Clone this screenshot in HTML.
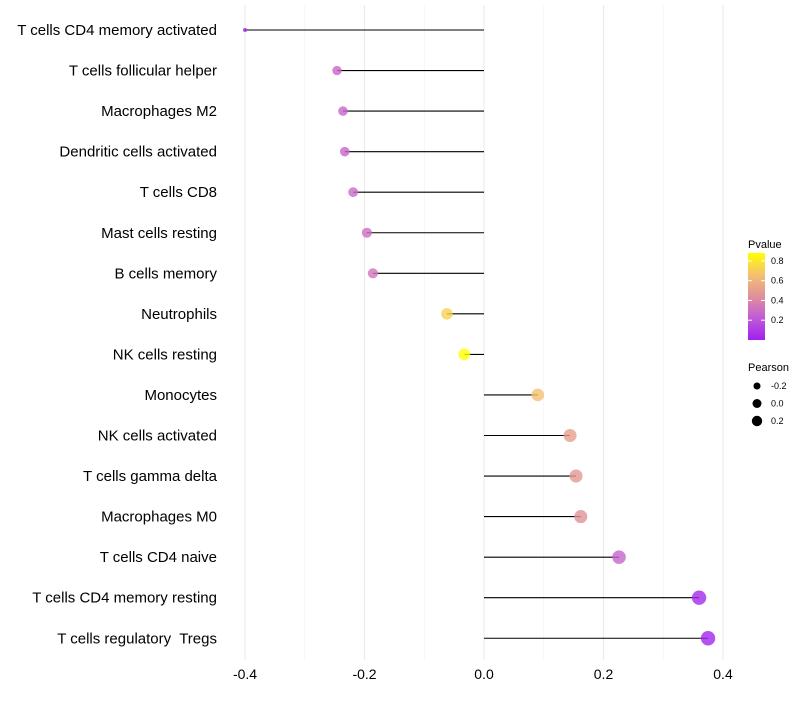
<!DOCTYPE html>
<html><head><meta charset="utf-8"><style>
body{margin:0;background:#fff;font-family:"Liberation Sans",sans-serif;}
text{white-space:pre;}
</style></head><body>
<svg id="chart" width="800" height="700" xmlns="http://www.w3.org/2000/svg" font-family="Liberation Sans, sans-serif"></svg>
<script>
const categories=["T cells CD4 memory activated","T cells follicular helper","Macrophages M2","Dendritic cells activated","T cells CD8","Mast cells resting","B cells memory","Neutrophils","NK cells resting","Monocytes","NK cells activated","T cells gamma delta","Macrophages M0","T cells CD4 naive","T cells CD4 memory resting","T cells regulatory  Tregs"];
const pearson=[-0.40,-0.246,-0.236,-0.233,-0.219,-0.196,-0.186,-0.062,-0.033,0.090,0.144,0.154,0.162,0.226,0.360,0.375];
const pvalue=[0.0,0.27,0.27,0.27,0.28,0.30,0.33,0.72,0.88,0.66,0.50,0.47,0.45,0.26,0.03,0.02];
const xTicks=[-0.4,-0.2,0.0,0.2,0.4];
const xMinor=[-0.3,-0.1,0.1,0.3];
const pTicks=[0.2,0.4,0.6,0.8];
const sizeTicks=[-0.2,0.0,0.2];
const NS="http://www.w3.org/2000/svg",svg=document.getElementById("chart");
function mk(t,a,p){const e=document.createElementNS(NS,t);for(const k in a)e.setAttribute(k,a[k]);(p||svg).appendChild(e);return e;}
const x=v=>484+v*597.5;
const y=i=>30+i*40.55;
const rad=v=>2+5.2*Math.pow(Math.max(0,(v+0.4)/0.775),0.4);
const stops=[[160,32,240],[192,90,216],[224,144,154],[245,192,112],[255,255,0]];
const col=p=>{const t=Math.max(0,Math.min(1,p/0.88))*4;const i=Math.min(3,Math.floor(t)),f=t-i;const a=stops[i],b=stops[i+1];return `rgb(${a.map((v,k)=>Math.round(v+(b[k]-v)*f)).join(",")})`;};
xMinor.forEach(v=>{const l=mk("line",{x1:x(v),x2:x(v),y1:5,y2:660,stroke:"#f2f2f2","stroke-width":0.6});

});
xTicks.forEach(v=>{const l=mk("line",{x1:x(v),x2:x(v),y1:5,y2:660,stroke:"#ebebeb","stroke-width":1.1});


const t=mk("text",{x:x(v),y:679,"text-anchor":"middle","font-size":14,fill:"#000"});t.textContent=v.toFixed(1);

});
categories.forEach((c,i)=>{
const t=mk("text",{x:217,y:y(i)+5,"text-anchor":"end","font-size":15,fill:"#000"});t.textContent=c;


const l=mk("line",{x1:x(0),x2:x(pearson[i]),y1:y(i),y2:y(i),stroke:"#000","stroke-width":1.1});


const p=mk("circle",{cx:x(pearson[i]),cy:y(i),r:rad(pearson[i]),fill:col(pvalue[i]),"fill-opacity":0.8});


});
const lt=mk("text",{x:748,y:248,"font-size":11});lt.textContent="Pvalue";


const defs=mk("defs",{});const g=mk("linearGradient",{id:"pg",x1:0,y1:1,x2:0,y2:0},defs);
[0,0.25,0.5,0.75,1].forEach(s=>mk("stop",{offset:s,"stop-color":col(s*0.88)},g));
const bar=mk("rect",{x:748,y:253,width:17,height:87,fill:"url(#pg)"});


const py=p=>340-(p/0.88)*87;
pTicks.forEach(p=>{mk("line",{x1:748,x2:752,y1:py(p),y2:py(p),stroke:"#fff"});mk("line",{x1:761,x2:765,y1:py(p),y2:py(p),stroke:"#fff"});
const t=mk("text",{x:771,y:py(p)+3,"font-size":9});t.textContent=p.toFixed(1);

});
const st=mk("text",{x:748,y:371,"font-size":11});st.textContent="Pearson";


sizeTicks.forEach((v,i)=>{const yy=386+i*17.5;
const c=mk("circle",{cx:757,cy:yy,r:rad(v)-1.5,fill:"#000"});


const t=mk("text",{x:771,y:yy+3,"font-size":9});t.textContent=v.toFixed(1);

});
</script>
</body></html>
